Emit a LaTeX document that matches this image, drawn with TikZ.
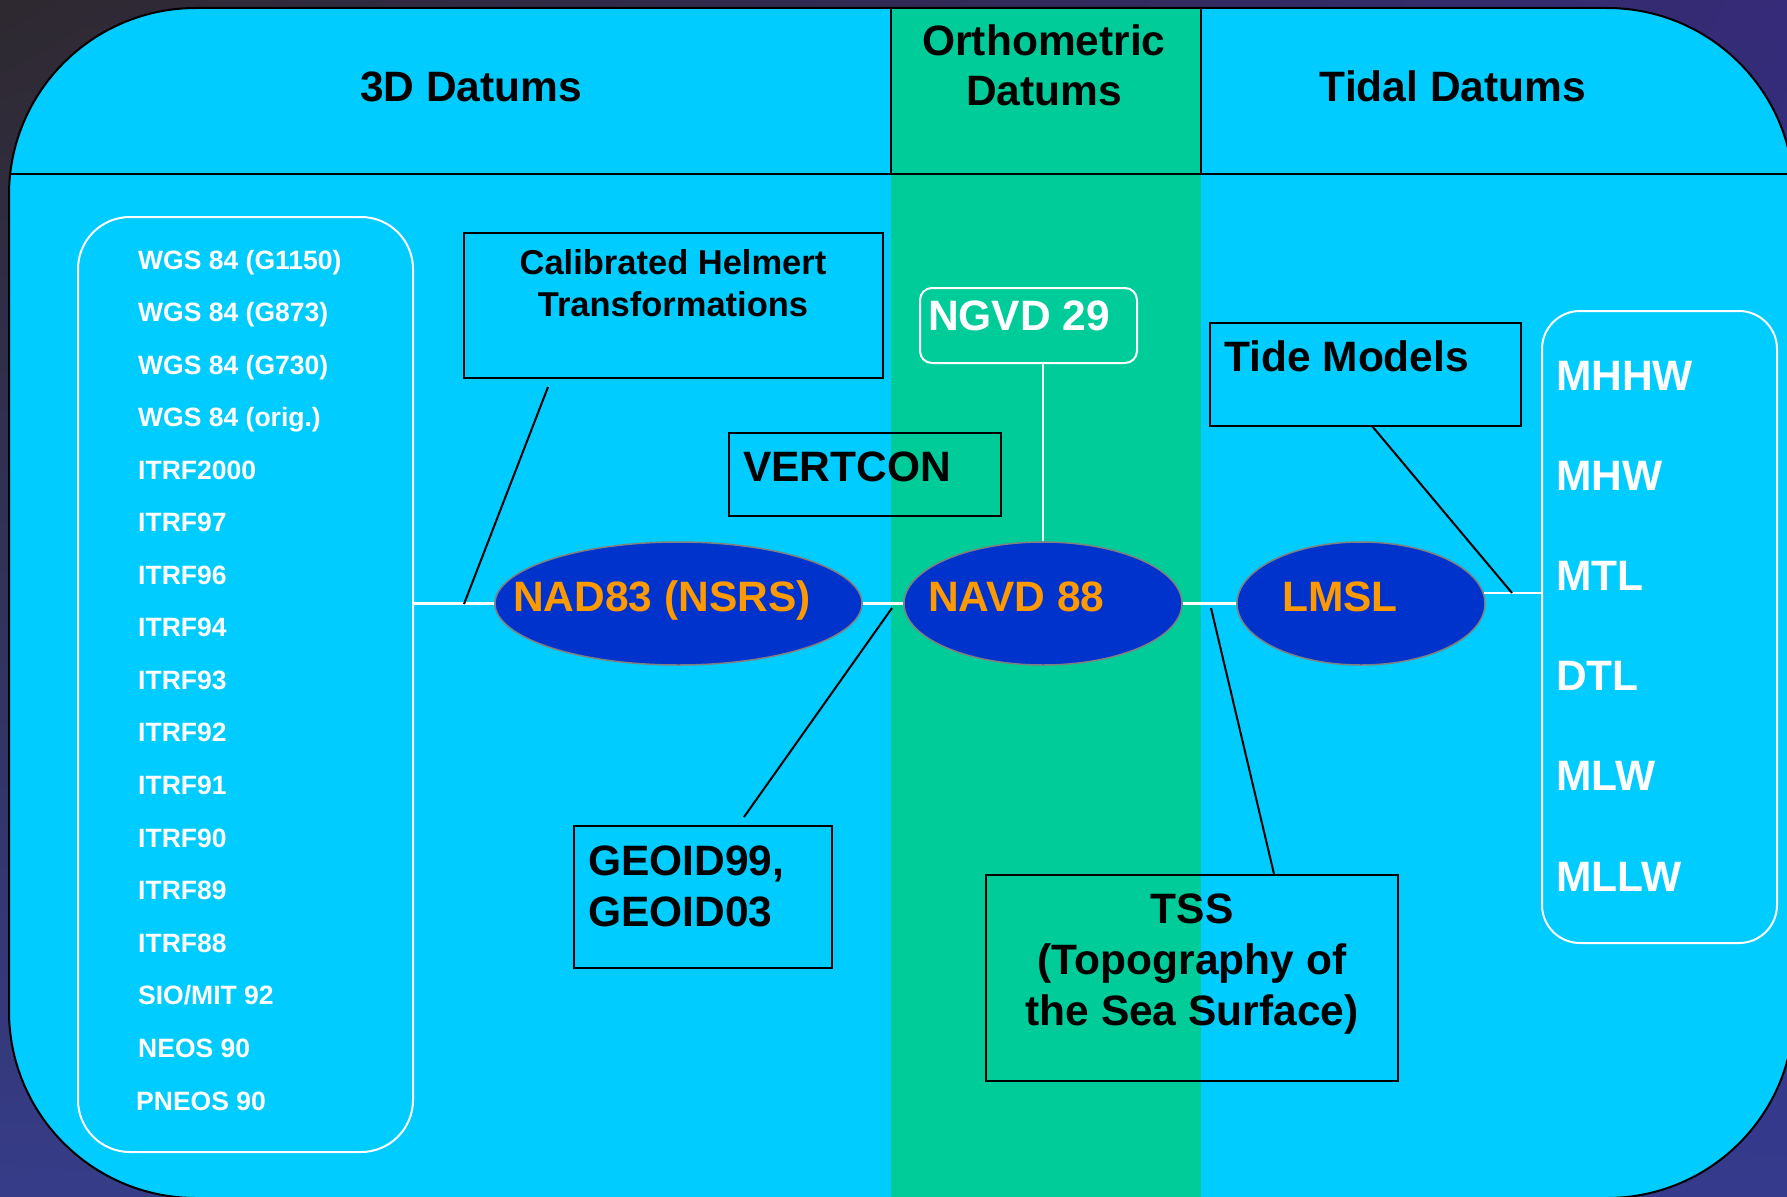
\documentclass[tikz,border=0pt]{standalone}
\usepackage{fontspec}
\setmainfont{Liberation Sans}
\usetikzlibrary{shapes.geometric,calc,shadings}
\definecolor{cyanbg}{HTML}{00CCFF}
\definecolor{greenbg}{HTML}{00CC99}
\definecolor{ellblue}{HTML}{0033CC}
\definecolor{ellgray}{HTML}{808080}
\definecolor{orangetxt}{HTML}{FF9900}
\definecolor{bgA}{HTML}{2E292F}
\definecolor{bgB}{HTML}{352B78}
\definecolor{bgC}{HTML}{363C88}
\definecolor{bgD}{HTML}{353A8C}
\tikzset{
  big/.style={font=\bfseries\fontsize{42.5}{51}\selectfont, inner sep=0pt},
  small/.style={font=\bfseries\fontsize{26.5}{32}\selectfont, text=white, inner sep=0pt},
  blackbox/.style={rectangle, draw=black, line width=2pt, inner sep=0pt},
  whitebox/.style={rectangle, draw=white, line width=2pt, inner sep=0pt},
  datum/.style={ellipse, fill=ellblue, draw=ellgray, line width=1.5pt, inner sep=0pt},
  wline/.style={draw=white, line width=2.5pt},
  bline/.style={draw=black, line width=2pt},
}
\begin{document}
\begin{tikzpicture}[x=1pt,y=-1pt]
\useasboundingbox (0,0) rectangle (1787,1196);
% background
\shade[upper left=bgA, upper right=bgB, lower left=bgC, lower right=bgD] (0,0) rectangle (1787,1196);
% main panel
\fill[cyanbg, rounded corners=187pt] (9,8) rectangle (1794,1198);
\begin{scope}
  \clip[rounded corners=187pt] (9,8) rectangle (1794,1198);
  \fill[greenbg] (891,8) rectangle (1201,1198);
  \draw[black, line width=2pt] (0,174) -- (1794,174);
  \draw[black, line width=1.5pt] (891,8) -- (891,174);
  \draw[black, line width=1.5pt] (1201,8) -- (1201,174);
\end{scope}
\draw[black, line width=2pt, rounded corners=187pt] (9,8) rectangle (1794,1198);

% headers
\node[big, anchor=base] (h3d) at (471,102) {3D Datums};
\node[big, anchor=base] (hortho1) at (1044,56) {Orthometric};
\node[big, anchor=base] (hortho2) at (1044,106) {Datums};
\node[big, anchor=base] (htidal) at (1453,102) {Tidal Datums};

% left list box
\node[whitebox, rounded corners=52pt, minimum width=335pt, minimum height=935pt] (listL) at (245.5,684.5) {};
\foreach \t [count=\i from 0] in {WGS 84 (G1150),WGS 84 (G873),WGS 84 (G730),WGS 84 (orig.),ITRF2000,ITRF97,ITRF96,ITRF94,ITRF93,ITRF92,ITRF91,ITRF90,ITRF89,ITRF88,SIO/MIT 92,NEOS 90}
  \node[small, anchor=base west] (l\i) at (138,269+52.55*\i) {\t};
\node[small, anchor=base west] (l16) at (136,1110) {PNEOS 90};

% right list box
\node[whitebox, rounded corners=38pt, minimum width=235pt, minimum height=632pt] (listR) at (1659.5,627) {};
\foreach \t [count=\i from 0] in {MHHW,MHW,MTL,DTL,MLW,MLLW}
  \node[big, text=white, anchor=base west] (r\i) at (1556,390+100.2*\i) {\t};

% boxes
\node[blackbox, minimum width=419pt, minimum height=145pt] (helm) at (673.5,305.5) {};
\node[big, anchor=base, font=\bfseries\fontsize{34.5}{42}\selectfont] (helm1) at (673,274) {Calibrated Helmert};
\node[big, anchor=base, font=\bfseries\fontsize{34.5}{42}\selectfont] (helm2) at (673,316) {Transformations};

\node[whitebox, rounded corners=12pt, minimum width=217pt, minimum height=75pt] (ngvdbox) at (1028.5,325.5) {};
\node[big, text=white, anchor=base west] (ngvd) at (928,330) {NGVD 29};

\node[blackbox, minimum width=272pt, minimum height=83pt] (vertbox) at (865,474.5) {};
\node[big, anchor=base west] (vert) at (743,481) {VERTCON};

\node[blackbox, minimum width=311pt, minimum height=103pt] (tidebox) at (1365.5,374.5) {};
\node[big, anchor=base west] (tide) at (1224,371) {Tide Models};

\node[blackbox, minimum width=258pt, minimum height=142pt] (geoidbox) at (703,897) {};
\node[big, anchor=base west] (geoid1) at (588,875) {GEOID99,};
\node[big, anchor=base west] (geoid2) at (588,926) {GEOID03};

\node[blackbox, minimum width=412pt, minimum height=206pt] (tssbox) at (1192,978) {};
\node[big, anchor=base] (tss1) at (1192,923) {TSS};
\node[big, anchor=base] (tss2) at (1192,974) {(Topography of};
\node[big, anchor=base] (tss3) at (1192,1025) {the Sea Surface)};

% ellipses
\node[datum, minimum width=367pt, minimum height=123pt] (nad) at (678.5,603.5) {};
\node[datum, minimum width=278pt, minimum height=123pt] (navd) at (1043,603.5) {};
\node[datum, minimum width=248pt, minimum height=123pt] (lmsl) at (1361,603.5) {};
\node[big, text=orangetxt, anchor=base west] (nadt) at (513,611) {NAD83 (NSRS)};
\node[big, text=orangetxt, anchor=base west] (navdt) at (928,611) {NAVD 88};
\node[big, text=orangetxt, anchor=base west] (lmslt) at (1282,611) {LMSL};

% white connectors
\draw[wline] (nad.west -| listL.east) -- (nad.west);
\draw[wline] (nad.east) -- (navd.west);
\draw[wline] (navd.east) -- (lmsl.west);
\draw[wline] (lmsl.5) -- (lmsl.5 -| listR.west);
\draw[wline] (ngvdbox.south -| navd.north) -- (navd.north);
\draw[bline] ($(vertbox.east)+(0,-6)$) -- ($(vertbox.east)+(0,-6)$ -| navd.north);

% black leader lines
\coordinate (helmA) at (548,387);
\coordinate (helmB) at (464,604);
\coordinate (geoA) at (744,817);
\coordinate (geoB) at (892,608);
\coordinate (tssA) at (1274,874);
\coordinate (tssB) at (1211,608);
\coordinate (tideA) at (1372,426);
\coordinate (tideB) at (1512,593);
\draw[bline] (helmA) -- (helmB);
\draw[bline] (geoA) -- (geoB);
\draw[bline] (tssA) -- (tssB);
\draw[bline] (tideA) -- (tideB);
\end{tikzpicture}
\end{document}
